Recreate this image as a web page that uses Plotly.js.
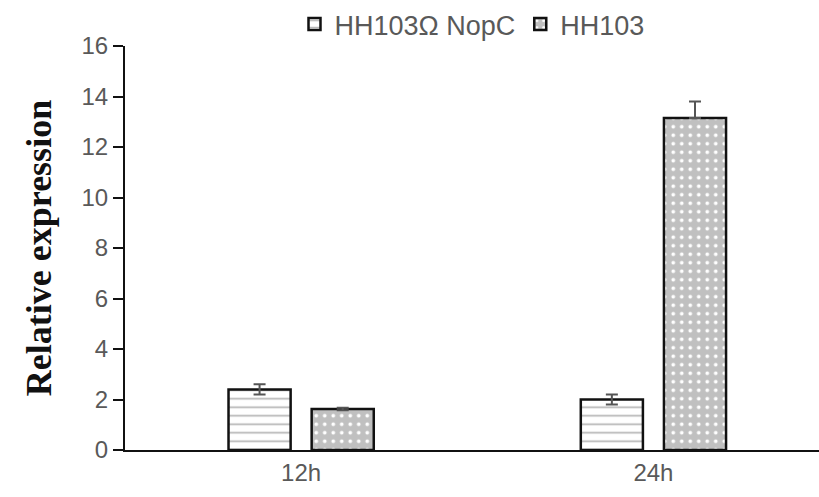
<!DOCTYPE html>
<html>
<head>
<meta charset="utf-8">
<script src="https://cdn.plot.ly/plotly-3.0.1.min.js"></script>
<style>html,body{margin:0;padding:0;background:#fff}#chart{width:819px;height:497px}</style>
</head>
<body>
<div id="chart"></div>
<script>
var categories = ["12h", "24h"];
var seriesNames = ["HH103\u03A9 NopC", "HH103"];
var nopcValues = [2.4, 2.0];
var nopcErrPlus = [0.2, 0.2];
var nopcErrMinus = [0.2, 0.2];
var hhValues = [1.62, 13.15];
var hhErrPlus = [0.05, 0.65];
var hhErrMinus = [0.05, 0.0];
var yTicks = [0, 2, 4, 6, 8, 10, 12, 14, 16];

var traces = [
  {
    type: "bar", name: seriesNames[0], x: categories, y: nopcValues,
    marker: {color: "#ffffff", line: {color: "#111", width: 2.5},
      pattern: {shape: "-", fgcolor: "#b5b5b5", bgcolor: "#ffffff", size: 8.5, solidity: 0.2}},
    error_y: {type: "data", symmetric: false, array: nopcErrPlus, arrayminus: nopcErrMinus,
      color: "#555", thickness: 2, width: 6}
  },
  {
    type: "bar", name: seriesNames[1], x: categories, y: hhValues,
    marker: {color: "#c0c0c0", line: {color: "#111", width: 2.5},
      pattern: {shape: ".", fgcolor: "#ffffff", bgcolor: "#c0c0c0", size: 8.5, solidity: 0.15}},
    error_y: {type: "data", symmetric: false, array: hhErrPlus, arrayminus: hhErrMinus,
      color: "#555", thickness: 2, width: 6}
  }
];

var layout = {
  width: 819, height: 497,
  margin: {l: 125, r: 0, t: 46, b: 47, autoexpand: false},
  paper_bgcolor: "#fff", plot_bgcolor: "#fff",
  font: {family: "Liberation Sans, Arial, sans-serif", color: "#595959", size: 24},
  barmode: "group", bargap: 0.528, bargroupgap: 0.253,
  showlegend: true,
  legend: {orientation: "h", x: 0.5, xanchor: "center", y: 1.0, yanchor: "top",
    yref: "container", font: {size: 27, color: "#595959"}, traceorder: "normal",
    itemwidth: 30, tracegroupgap: 0},
  xaxis: {type: "category", range: [-0.5, 1.47], showline: true, linecolor: "#111", linewidth: 2,
    ticks: "", showgrid: false, zeroline: false, tickfont: {size: 24, color: "#595959"}},
  yaxis: {range: [0, 16], tickvals: yTicks, showline: true, linecolor: "#111", linewidth: 2,
    ticks: "outside", ticklen: 10, tickwidth: 2, tickcolor: "#111", showgrid: false, zeroline: false,
    tickfont: {size: 24, color: "#595959"},
    title: {text: "Relative expression", standoff: 19,
      font: {family: "Liberation Serif, Times New Roman, serif", size: 36, color: "#111", weight: "bold"}}}
};
Plotly.newPlot("chart", traces, layout, {displayModeBar: false, staticPlot: true});
</script>
</body>
</html>
